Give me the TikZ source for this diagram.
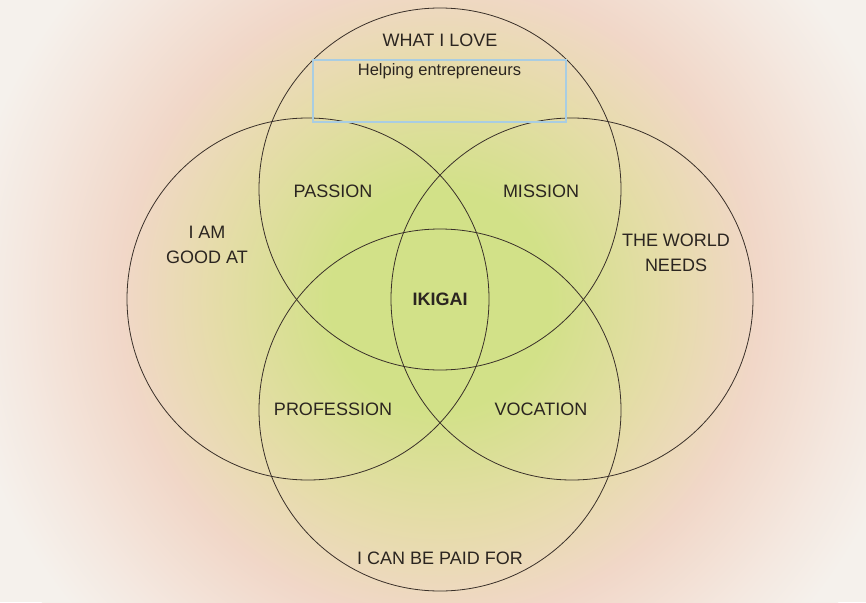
\documentclass[tikz,border=0pt]{standalone}
\usepackage{fontspec}
\setmainfont{Liberation Sans}
\usetikzlibrary{positioning}
\definecolor{cgreen}{HTML}{D2E188}
\definecolor{cmid}{HTML}{E6DCAA}
\definecolor{cpeach}{HTML}{F1D7C8}
\definecolor{cfade}{HTML}{F4E8E0}
\definecolor{coff}{HTML}{F5F1EC}
\definecolor{cline}{HTML}{3A3029}
\definecolor{ctext}{HTML}{2B2520}
\definecolor{cnote}{HTML}{A9CDE2}
\pgfdeclareradialshading{ikigaibg}{\pgfpoint{0bp}{0bp}}{color(0bp)=(cgreen); color(5.5bp)=(cgreen); color(11.5bp)=(cmid); color(16bp)=(cpeach); color(21bp)=(cfade); color(24bp)=(coff); color(50bp)=(coff)}
\begin{document}
\begin{tikzpicture}[x=1pt, y=-1pt,
  ring/.style = {draw=cline, line width=0.8pt, circle, minimum size=362pt, inner sep=0pt},
  label/.style = {text=ctext, font=\fontsize{18}{25}\selectfont, align=center},
  notebox/.style = {draw=cnote, line width=1.4pt, minimum width=253pt, minimum height=62pt, inner sep=0pt}]
\useasboundingbox (0,0) rectangle (866,602);
% background
\fill[coff] (0,0) rectangle (866,602);
\begin{scope}
\clip (0,0) rectangle (866,602);
\shade[shading=ikigaibg] (440,300) circle (500);
\end{scope}
% circles
\node[ring] (love) at (440,189) {};
\node[ring] (good) at (308,299) {};
\node[ring] (world) at (572,299) {};
\node[ring] (paid) at (440,410) {};
% note
\node[notebox] (note) at (439.5,91) {};
\node[font=\fontsize{16.5}{18}\selectfont, text=ctext, below=1pt of note.north] (help) {Helping entrepreneurs};
% labels
\node[label] (l1) at (440,40) {WHAT I LOVE};
\node[label] (l2) at (207,245) {I AM\\GOOD AT};
\node[label] (l3) at (676,253) {THE WORLD\\NEEDS};
\node[label] (l4) at (440,558) {I CAN BE PAID FOR};
\node[label] (p1) at (333,191) {PASSION};
\node[label] (p2) at (541,191) {MISSION};
\node[label] (p3) at (333,409) {PROFESSION};
\node[label] (p4) at (541,409) {VOCATION};
\node[label, font=\fontsize{18}{25}\selectfont\bfseries] (ik) at (440,299) {IKIGAI};
\end{tikzpicture}
\end{document}
